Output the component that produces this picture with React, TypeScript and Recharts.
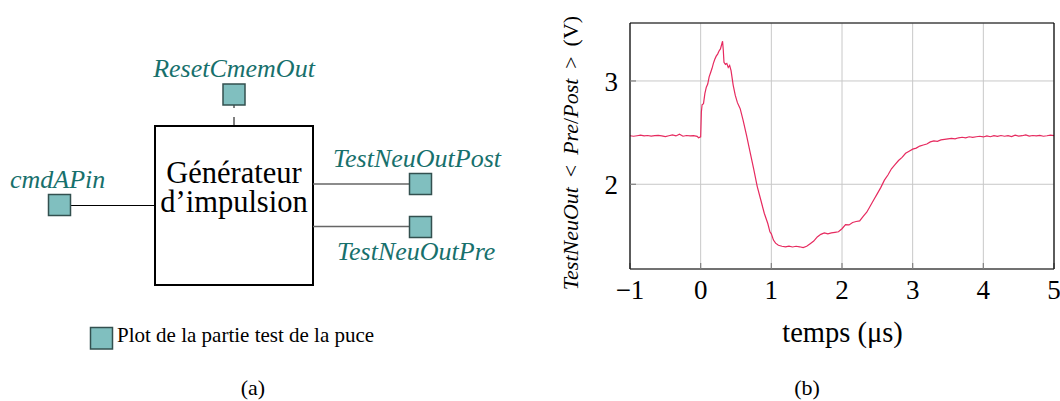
import React from 'react';
import { LineChart, Line, XAxis, YAxis, CartesianGrid } from 'recharts';

// ---------- data (b) ----------
const timeUs = [
  -1.0, -0.95, -0.9, -0.85, -0.8, -0.75, -0.7, -0.65, -0.6, -0.55,
  -0.5, -0.45, -0.4, -0.35, -0.3, -0.25, -0.2, -0.15, -0.1, -0.05,
  -0.03, 0.0, 0.01, 0.02, 0.04, 0.06, 0.08, 0.1, 0.12, 0.14,
  0.16, 0.18, 0.2, 0.22, 0.24, 0.26, 0.28, 0.3, 0.31, 0.32,
  0.33, 0.35, 0.37, 0.39, 0.41, 0.43, 0.46, 0.49, 0.52, 0.54,
  0.56, 0.6, 0.65, 0.7, 0.75, 0.8, 0.85, 0.9, 0.95, 0.98,
  1.0, 1.03, 1.06, 1.1, 1.15, 1.2, 1.25, 1.3, 1.35, 1.4,
  1.45, 1.5, 1.55, 1.6, 1.65, 1.7, 1.75, 1.8, 1.85, 1.9,
  1.95, 2.0, 2.05, 2.1, 2.15, 2.2, 2.25, 2.3, 2.35, 2.4,
  2.45, 2.5, 2.55, 2.6, 2.65, 2.7, 2.75, 2.8, 2.85, 2.9,
  2.95, 3.0, 3.05, 3.1, 3.15, 3.2, 3.25, 3.3, 3.35, 3.4,
  3.45, 3.5, 3.55, 3.6, 3.65, 3.7, 3.75, 3.8, 3.85, 3.9,
  3.95, 4.0, 4.05, 4.1, 4.15, 4.2, 4.25, 4.3, 4.35, 4.4,
  4.45, 4.5, 4.55, 4.6, 4.65, 4.7, 4.75, 4.8, 4.85, 4.9,
  4.95, 5.0,
];
const voltage = [
  2.47, 2.465, 2.47, 2.475, 2.468, 2.472, 2.466, 2.47, 2.474, 2.468,
  2.462, 2.47, 2.478, 2.468, 2.485, 2.465, 2.472, 2.468, 2.47, 2.464,
  2.45, 2.46, 2.7, 2.77, 2.78, 2.88, 2.94, 2.97, 3.04, 3.08,
  3.12, 3.17, 3.21, 3.24, 3.26, 3.29, 3.31, 3.36, 3.385, 3.3,
  3.18, 3.16, 3.17, 3.13, 3.15, 3.1, 2.96, 2.86, 2.79, 2.76,
  2.73, 2.62, 2.47, 2.31, 2.15, 1.98, 1.85, 1.72, 1.62, 1.54,
  1.52, 1.46, 1.43, 1.41, 1.4, 1.395, 1.402, 1.393, 1.4, 1.395,
  1.388, 1.4, 1.425, 1.45, 1.49, 1.515, 1.53, 1.52, 1.53, 1.535,
  1.54, 1.57, 1.61, 1.607, 1.63, 1.64, 1.645, 1.69, 1.73, 1.79,
  1.85, 1.91, 1.97, 2.04, 2.09, 2.15, 2.19, 2.23, 2.26, 2.3,
  2.32, 2.34, 2.35, 2.37, 2.38, 2.39, 2.41, 2.42, 2.415, 2.43,
  2.435, 2.44, 2.445, 2.44, 2.45, 2.455, 2.45, 2.46, 2.455, 2.46,
  2.465, 2.458, 2.468, 2.46, 2.47, 2.463, 2.472, 2.465, 2.47, 2.462,
  2.475, 2.466, 2.47, 2.478, 2.466, 2.472, 2.468, 2.474, 2.465, 2.47,
  2.476, 2.47,
];
const xTicks = [-1, 0, 1, 2, 3, 4, 5];
const yTicks = [2, 3];
const xDomain: [number, number] = [-1, 5];
const yDomain: [number, number] = [1.18, 3.561];

// ---------- diagram (a) labels ----------
const blockLines = ['Générateur', 'd\u2019impulsion'];
const pinLabels = ['ResetCmemOut', 'cmdAPin', 'TestNeuOutPost', 'TestNeuOutPre'];
const legendText = 'Plot de la partie test de la puce';
const captions = ['(a)', '(b)'];

const data = timeUs.map((t, i) => ({ t, v: voltage[i] }));

const SERIF = 'Liberation Serif';
const TEAL_TEXT = '#17706c';
const PIN_FILL = '#80bfbf';
const PIN_STROKE = '#33504f';
const LINE_COLOR = '#e62a5f';

const fmtX = (v: number) => (v < 0 ? '\u2212' + Math.abs(v) : String(v));

const Pin = ({ x, y }: { x: number; y: number }) => (
  <rect x={x} y={y} width={22} height={21} fill={PIN_FILL} stroke={PIN_STROKE} strokeWidth={1.5} />
);

export default function App() {
  const pinText = (x: number, y: number, s: string, anchor: 'start' | 'middle' = 'start') => (
    <text x={x} y={y} textAnchor={anchor} fontFamily={SERIF} fontStyle="italic" fontSize={26} fill={TEAL_TEXT}>
      {s}
    </text>
  );
  return (
    <div style={{ position: 'absolute', left: 0, top: 0, width: 1060, height: 401, background: '#fff' }}>
      <svg width={1060} height={401} style={{ position: 'absolute', left: 0, top: 0 }}>
        {/* block */}
        <rect x={155} y={126} width={158} height={159} fill="none" stroke="#000" strokeWidth={2} />
        <text x={234} y={183} textAnchor="middle" fontFamily={SERIF} fontSize={30.5} fill="#000">
          {blockLines[0]}
        </text>
        <text x={234} y={211.5} textAnchor="middle" fontFamily={SERIF} fontSize={30.5} fill="#000">
          {blockLines[1]}
        </text>
        {/* connections */}
        <line x1={234} y1={105} x2={234} y2={126} stroke="#000" strokeWidth={1} strokeDasharray="3 9 12" />
        <line x1={70} y1={205.5} x2={155} y2={205.5} stroke="#000" strokeWidth={1} />
        <line x1={313} y1={184} x2={410} y2={184} stroke="#666" strokeWidth={1.5} />
        <line x1={313} y1={226.5} x2={410} y2={226.5} stroke="#666" strokeWidth={1.5} />
        {/* pins */}
        <Pin x={223} y={84} />
        <Pin x={48.5} y={194.5} />
        <Pin x={409.5} y={173.5} />
        <Pin x={409.5} y={216.5} />
        {pinText(234, 77, pinLabels[0], 'middle')}
        {pinText(10, 188, pinLabels[1])}
        {pinText(333, 166.5, pinLabels[2])}
        {pinText(337, 260, pinLabels[3])}
        {/* legend */}
        <rect x={90.5} y={327.5} width={22} height={21.5} fill={PIN_FILL} stroke={PIN_STROKE} strokeWidth={1.5} />
        <text x={117} y={341.5} fontFamily={SERIF} fontSize={21} fill="#000">{legendText}</text>
        {/* captions */}
        <text x={253} y={395} textAnchor="middle" fontFamily={SERIF} fontSize={22} fill="#000">{captions[0]}</text>
        <text x={807} y={395} textAnchor="middle" fontFamily={SERIF} fontSize={22} fill="#000">{captions[1]}</text>
        {/* axis titles */}
        <text x={842.5} y={341.5} textAnchor="middle" fontFamily={SERIF} fontSize={28.5} fill="#000">
          temps (μs)
        </text>
        <text
          x={578}
          y={153}
          transform="rotate(-90 578 153)"
          textAnchor="middle"
          fontFamily={SERIF}
          fontSize={22}
          fill="#000"
        >
          <tspan fontStyle="italic">TestNeuOut</tspan>
          <tspan>{' \u2009<\u2009 '}</tspan>
          <tspan fontStyle="italic">Pre</tspan>
          <tspan>/</tspan>
          <tspan fontStyle="italic">Post</tspan>
          <tspan>{' \u2009>\u2009 (V)'}</tspan>
        </text>
      </svg>

      <div style={{ position: 'absolute', left: 0, top: 0 }}>
        <LineChart
          width={1060}
          height={401}
          data={data}
          margin={{ top: 22, right: 0, bottom: 92, left: 570 }}
        >
          <CartesianGrid stroke="#c8c8c8" strokeWidth={1} />
          <XAxis
            dataKey="t"
            type="number"
            domain={xDomain}
            ticks={xTicks}
            allowDataOverflow
            tickFormatter={fmtX}
            height={40}
            axisLine={{ stroke: '#000', strokeWidth: 1.2 }}
            tickLine={{ stroke: '#808080', strokeWidth: 1.2 }}
            tickSize={-6}
            tickMargin={17}
            tick={{ fontFamily: SERIF, fontSize: 27, fill: '#000' }}
            interval={0}
          />
          <XAxis
            xAxisId="top"
            orientation="top"
            type="number"
            domain={xDomain}
            ticks={xTicks}
            allowDataOverflow
            height={1}
            axisLine={{ stroke: '#000', strokeWidth: 1.2 }}
            tickLine={{ stroke: '#808080', strokeWidth: 1.2 }}
            tickSize={-6}
            tick={false}
            interval={0}
          />
          <YAxis
            type="number"
            domain={yDomain}
            ticks={yTicks}
            allowDataOverflow
            width={60}
            axisLine={{ stroke: '#000', strokeWidth: 1.2 }}
            tickLine={{ stroke: '#808080', strokeWidth: 1.2 }}
            tickSize={-6}
            tickMargin={18}
            tick={{ fontFamily: SERIF, fontSize: 27, fill: '#000' }}
            interval={0}
          />
          <YAxis
            yAxisId="right"
            orientation="right"
            type="number"
            domain={yDomain}
            ticks={yTicks}
            allowDataOverflow
            width={6}
            axisLine={{ stroke: '#000', strokeWidth: 1.2 }}
            tickLine={{ stroke: '#808080', strokeWidth: 1.2 }}
            tickSize={-6}
            tick={false}
            interval={0}
          />
          <Line
            type="linear"
            dataKey="v"
            stroke={LINE_COLOR}
            strokeWidth={1.2}
            dot={false}
            isAnimationActive={false}
          />
        </LineChart>
      </div>
    </div>
  );
}
